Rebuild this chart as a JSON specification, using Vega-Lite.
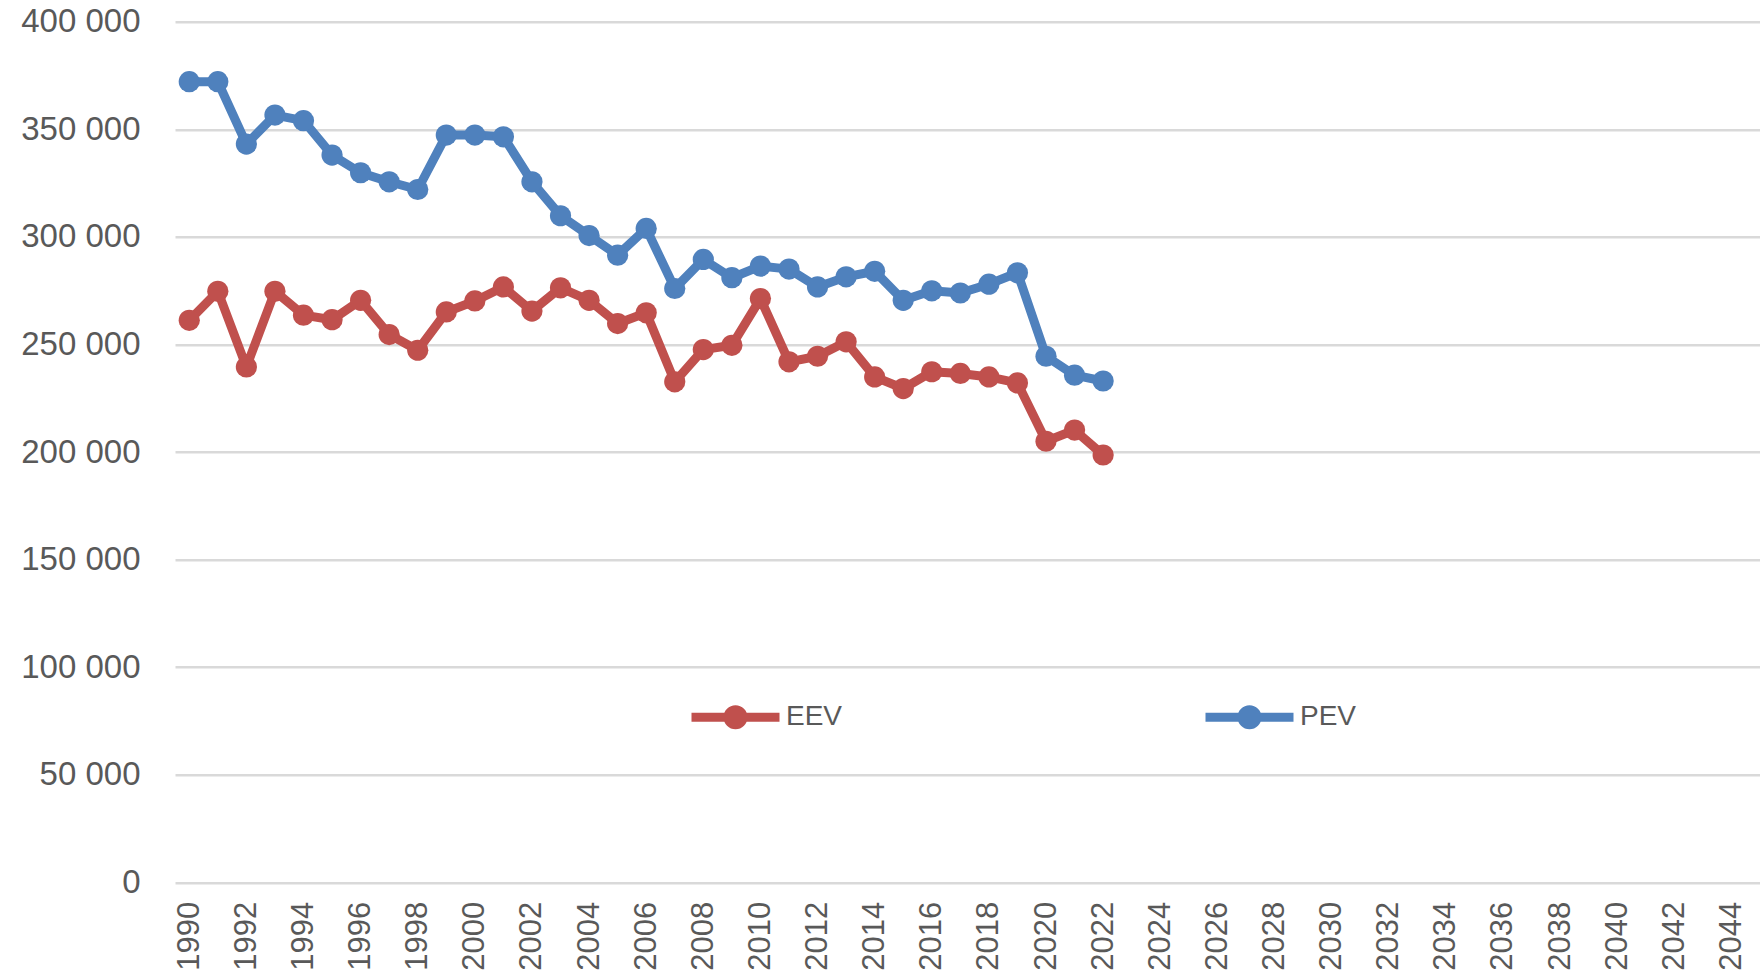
{
  "$schema": "https://vega.github.io/schema/vega-lite/v6.json",
  "width": 1585,
  "height": 860.6,
  "autosize": "none",
  "padding": {"left": 175, "top": 21.7, "right": 0, "bottom": 88.7},
  "background": "white",
  "config": {
    "view": {"stroke": null},
    "font": "Liberation Sans"
  },
  "data": {
    "values": [
      {"year": 1990, "series": "PEV", "value": 372100},
      {"year": 1991, "series": "PEV", "value": 372100},
      {"year": 1992, "series": "PEV", "value": 343100},
      {"year": 1993, "series": "PEV", "value": 356600},
      {"year": 1994, "series": "PEV", "value": 354000},
      {"year": 1995, "series": "PEV", "value": 338000},
      {"year": 1996, "series": "PEV", "value": 329800},
      {"year": 1997, "series": "PEV", "value": 325600},
      {"year": 1998, "series": "PEV", "value": 322000},
      {"year": 1999, "series": "PEV", "value": 347300},
      {"year": 2000, "series": "PEV", "value": 347300},
      {"year": 2001, "series": "PEV", "value": 346500},
      {"year": 2002, "series": "PEV", "value": 325600},
      {"year": 2003, "series": "PEV", "value": 309800},
      {"year": 2004, "series": "PEV", "value": 300600},
      {"year": 2005, "series": "PEV", "value": 291500},
      {"year": 2006, "series": "PEV", "value": 303900},
      {"year": 2007, "series": "PEV", "value": 276000},
      {"year": 2008, "series": "PEV", "value": 289500},
      {"year": 2009, "series": "PEV", "value": 281000},
      {"year": 2010, "series": "PEV", "value": 286400},
      {"year": 2011, "series": "PEV", "value": 285000},
      {"year": 2012, "series": "PEV", "value": 276700},
      {"year": 2013, "series": "PEV", "value": 281400},
      {"year": 2014, "series": "PEV", "value": 284000},
      {"year": 2015, "series": "PEV", "value": 270500},
      {"year": 2016, "series": "PEV", "value": 274900},
      {"year": 2017, "series": "PEV", "value": 273900},
      {"year": 2018, "series": "PEV", "value": 278000},
      {"year": 2019, "series": "PEV", "value": 283300},
      {"year": 2020, "series": "PEV", "value": 244500},
      {"year": 2021, "series": "PEV", "value": 235700},
      {"year": 2022, "series": "PEV", "value": 233000},
      {"year": 1990, "series": "EEV", "value": 261200},
      {"year": 1991, "series": "EEV", "value": 274700},
      {"year": 1992, "series": "EEV", "value": 239500},
      {"year": 1993, "series": "EEV", "value": 274700},
      {"year": 1994, "series": "EEV", "value": 263600},
      {"year": 1995, "series": "EEV", "value": 261500},
      {"year": 1996, "series": "EEV", "value": 270500},
      {"year": 1997, "series": "EEV", "value": 254600},
      {"year": 1998, "series": "EEV", "value": 247300},
      {"year": 1999, "series": "EEV", "value": 265100},
      {"year": 2000, "series": "EEV", "value": 270200},
      {"year": 2001, "series": "EEV", "value": 276700},
      {"year": 2002, "series": "EEV", "value": 265500},
      {"year": 2003, "series": "EEV", "value": 276300},
      {"year": 2004, "series": "EEV", "value": 270500},
      {"year": 2005, "series": "EEV", "value": 259700},
      {"year": 2006, "series": "EEV", "value": 264700},
      {"year": 2007, "series": "EEV", "value": 232600},
      {"year": 2008, "series": "EEV", "value": 247600},
      {"year": 2009, "series": "EEV", "value": 249600},
      {"year": 2010, "series": "EEV", "value": 271300},
      {"year": 2011, "series": "EEV", "value": 241900},
      {"year": 2012, "series": "EEV", "value": 244500},
      {"year": 2013, "series": "EEV", "value": 251200},
      {"year": 2014, "series": "EEV", "value": 234900},
      {"year": 2015, "series": "EEV", "value": 229500},
      {"year": 2016, "series": "EEV", "value": 237300},
      {"year": 2017, "series": "EEV", "value": 236500},
      {"year": 2018, "series": "EEV", "value": 234900},
      {"year": 2019, "series": "EEV", "value": 232100},
      {"year": 2020, "series": "EEV", "value": 205000},
      {"year": 2021, "series": "EEV", "value": 210200},
      {"year": 2022, "series": "EEV", "value": 198600}
    ]
  },
  "encoding": {
    "x": {
      "field": "year",
      "type": "quantitative",
      "scale": {"domain": [1989.5, 2045], "nice": false, "zero": false},
      "axis": {
        "title": null,
        "values": [1990, 1992, 1994, 1996, 1998, 2000, 2002, 2004, 2006, 2008, 2010, 2012, 2014, 2016, 2018, 2020, 2022, 2024, 2026, 2028, 2030, 2032, 2034, 2036, 2038, 2040, 2042, 2044],
        "format": "d",
        "labelAngle": -90,
        "labelPadding": 19,
        "labelFontSize": 31,
        "labelColor": "#595959",
        "labelOverlap": false,
        "labelFlush": false,
        "grid": false,
        "domain": false,
        "ticks": false,
        "tickSize": 0
      }
    },
    "y": {
      "field": "value",
      "type": "quantitative",
      "scale": {"domain": [0, 400000], "nice": false},
      "axis": {
        "title": null,
        "values": [0, 50000, 100000, 150000, 200000, 250000, 300000, 350000, 400000],
        "labelExpr": "replace(format(datum.value, ',d'), /,/g, ' ')",
        "labelFontSize": 33,
        "labelColor": "#595959",
        "labelPadding": 35,
        "grid": true,
        "gridColor": "#d9d9d9",
        "gridWidth": 2.5,
        "domain": false,
        "ticks": false,
        "tickSize": 0
      }
    },
    "color": {
      "field": "series",
      "type": "nominal",
      "scale": {"domain": ["EEV", "PEV"], "range": ["#C0504D", "#4F81BD"]},
      "legend": {
        "title": null,
        "orient": "none",
        "direction": "horizontal",
        "columns": 2,
        "legendX": 512,
        "legendY": 647,
        "padding": 0,
        "columnPadding": 344,
        "symbolType": "M-1,0 L1,0 M-0.17,0 A0.17,0.17 0 1,1 0.17,0 A0.17,0.17 0 1,1 -0.17,0 M-0.068,0 A0.068,0.068 0 1,1 0.068,0 A0.068,0.068 0 1,1 -0.068,0",
        "symbolSize": 7744,
        "symbolStrokeWidth": 9,
        "symbolOpacity": 1,
        "labelFontSize": 28,
        "labelColor": "#595959",
        "labelOffset": 2
      }
    }
  },
  "layer": [
    {
      "mark": {"type": "line", "strokeWidth": 9, "strokeCap": "round", "strokeJoin": "round"}
    },
    {
      "mark": {"type": "point", "filled": true, "size": 450, "opacity": 1}
    }
  ]
}
